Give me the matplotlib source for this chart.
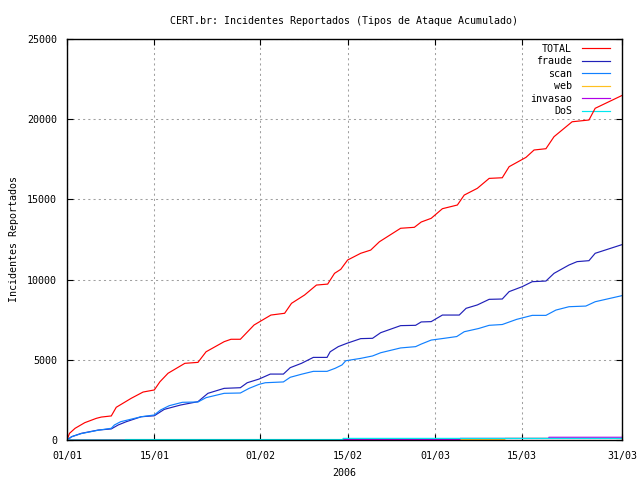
import matplotlib
matplotlib.use("Agg")
import matplotlib.pyplot as plt

# ---- data (x = days since 01/01/2006) ----
total_days = [0, 0.4, 1.3, 2.85, 4.7, 5.5, 7.1, 7.9, 10.3, 12.2, 14, 14.9, 16.2, 18.9, 21, 22.3,
              25.2, 26.3, 27.8, 30, 32.7, 34.9, 36, 38.1, 40, 41.8, 42.9, 43.9, 45, 47.1, 48.7,
              50.1, 53.5, 55.7, 56.8, 58.4, 60.2, 62.6, 63.7, 65.8, 67.7, 69.8, 70.9, 73.6, 74.9,
              76.8, 78.1, 81, 83.7, 84.7, 89]
total_vals = [0, 415, 730, 1080, 1350, 1430, 1500, 2040, 2600, 2990, 3120, 3630, 4160, 4780, 4840,
              5500, 6130, 6280, 6280, 7170, 7790, 7900, 8520, 9040, 9660, 9720, 10390, 10640, 11220,
              11640, 11840, 12360, 13200, 13260, 13590, 13820, 14420, 14650, 15270, 15690, 16310,
              16350, 17040, 17620, 18080, 18160, 18910, 19840, 19950, 20680, 21480]

fraude_days = [0, 0.75, 2.3, 5, 7.1, 8.2, 9.5, 11.9, 14, 15.6, 18.2, 21, 22.6, 25.2, 27.8, 28.9,
               30.8, 32.6, 34.7, 35.8, 37.6, 39.5, 41.7, 42.2, 43.5, 44.9, 47.1, 49, 50.3, 53.5,
               55.9, 56.8, 58.4, 60.2, 62.9, 64, 65.8, 67.7, 69.8, 70.9, 73, 74.6, 76.8, 78.1,
               80.5, 81.8, 83.7, 84.7, 89]
fraude_vals = [0, 210, 415, 620, 690, 935, 1140, 1450, 1510, 1910, 2180, 2390, 2910, 3220, 3260,
               3570, 3800, 4110, 4110, 4510, 4780, 5150, 5150, 5500, 5820, 6030, 6320, 6340, 6690,
               7130, 7150, 7360, 7380, 7790, 7790, 8210, 8420, 8770, 8790, 9250, 9560, 9870, 9910,
               10390, 10910, 11120, 11180, 11640, 12180]

scan_days = [0, 0.75, 2.3, 5, 7.1, 7.6, 8.6, 11.9, 14, 15, 16.4, 18.5, 21, 22.3, 25.2, 27.8, 29.2,
             30.8, 31.8, 34.7, 35.8, 37.6, 39.5, 41.7, 43, 44.1, 44.7, 47.1, 49, 50.3, 53.5, 55.9,
             56.8, 58.4, 60.5, 62.5, 63.7, 66, 67.7, 69.8, 72.1, 74.6, 76.8, 78.4, 80.5, 83.2,
             84.7, 89]
scan_vals = [0, 200, 400, 610, 730, 935, 1140, 1450, 1560, 1870, 2140, 2350, 2370, 2640, 2910,
             2930, 3220, 3470, 3570, 3620, 3910, 4100, 4280, 4280, 4470, 4680, 4940, 5090, 5240,
             5440, 5740, 5820, 5980, 6230, 6340, 6450, 6750, 6950, 7150, 7200, 7520, 7770, 7770,
             8100, 8310, 8350, 8620, 9000]

web_days = [0, 44.2, 44.3, 70.2, 70.3, 89]
web_vals = [0, 0, 40, 40, 100, 100]

invasao_days = [0, 44.2, 44.3, 63.0, 63.1, 77.2, 77.3, 89]
invasao_vals = [0, 0, 40, 40, 100, 100, 170, 170]

dos_days = [0, 9.3, 9.4, 44.2, 44.3, 89]
dos_vals = [0, 0, 30, 30, 100, 100]

series_names = ["TOTAL", "fraude", "scan", "web", "invasao", "DoS"]
series_colors = ["#ff0000", "#2020b8", "#1080ff", "#ffc020", "#b000e8", "#00e8f0"]

xtick_pos = [0, 14, 31, 45, 59, 73, 89]
xtick_labels = ["01/01", "15/01", "01/02", "15/02", "01/03", "15/03", "31/03"]
ytick_pos = [0, 5000, 10000, 15000, 20000, 25000]

title = "CERT.br: Incidentes Reportados (Tipos de Ataque Acumulado)"
xlabel = "2006"
ylabel = "Incidentes Reportados"

# ---- plotting ----
plt.rcParams['font.family'] = ['DejaVu Sans Mono']
fs = 7.2

fig = plt.figure(figsize=(6.4, 4.8), dpi=100)
ax = fig.add_axes([67/640, 1 - 440/480, (622 - 67)/640, (440 - 39)/480])

data = [(total_days, total_vals), (fraude_days, fraude_vals), (scan_days, scan_vals),
        (web_days, web_vals), (invasao_days, invasao_vals), (dos_days, dos_vals)]
for (d, v), name, col in zip(data, series_names, series_colors):
    ax.plot(d, v, color=col, lw=0.85, label=name, solid_joinstyle='miter')

ax.set_xlim(0, 89)
ax.set_ylim(0, 25000)
ax.set_xticks(xtick_pos)
ax.set_xticklabels(xtick_labels)
ax.set_yticks(ytick_pos)
ax.set_yticklabels([str(t) for t in ytick_pos])
ax.tick_params(direction='in', length=4, width=0.8, top=True, right=True,
               labelsize=fs, colors='black')
ax.tick_params(axis='x', pad=8)
ax.tick_params(axis='y', pad=7)

ax.grid(True, color='#a0a0a0', lw=0.75, linestyle=(0, (2, 3)))
ax.set_axisbelow(True)
for s in ax.spines.values():
    s.set_linewidth(1.0)
    s.set_color('black')

ax.set_title(title, fontsize=fs, pad=11)
ax.set_xlabel(xlabel, fontsize=fs, labelpad=5)
ax.set_ylabel(ylabel, fontsize=fs, labelpad=6)

leg = ax.legend(loc='upper right', bbox_to_anchor=(0.983, 0.994), markerfirst=False,
                fontsize=fs, frameon=True, handlelength=2.8, handletextpad=1.0,
                labelspacing=0.25, borderaxespad=0.0, borderpad=0.25)
leg.get_frame().set_edgecolor('none')
leg.get_frame().set_facecolor('white')
leg.get_frame().set_alpha(1)
leg.set_zorder(1.5)
for t in leg.get_texts():
    t.set_ha('right')

fig.savefig("out.png", dpi=100)
